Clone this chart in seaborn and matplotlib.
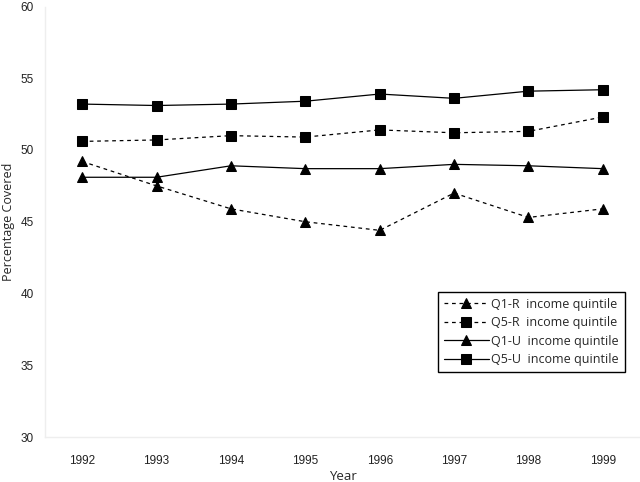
import matplotlib
matplotlib.use("Agg")
import matplotlib.pyplot as plt
import seaborn as sns
import pandas as pd

years = [1992, 1993, 1994, 1995, 1996, 1997, 1998, 1999]
q1_r = [49.2, 47.5, 45.9, 45.0, 44.4, 47.0, 45.3, 45.9]
q5_r = [50.6, 50.7, 51.0, 50.9, 51.4, 51.2, 51.3, 52.3]
q1_u = [48.1, 48.1, 48.9, 48.7, 48.7, 49.0, 48.9, 48.7]
q5_u = [53.2, 53.1, 53.2, 53.4, 53.9, 53.6, 54.1, 54.2]
series_names = ["Q1-R  income quintile", "Q5-R  income quintile",
                "Q1-U  income quintile", "Q5-U  income quintile"]
y_ticks = [30, 35, 40, 45, 50, 55, 60]

sns.set_theme(style="white")
plt.rcParams["font.family"] = ["Open Sans", "DejaVu Sans"]

fig = plt.figure(figsize=(6.4, 4.82), dpi=100)
ax = fig.add_axes([45 / 640, 1 - 437 / 482, 595 / 640, 430.5 / 482])

styles = [
    (q1_r, "^", (0, (3, 3))),
    (q5_r, "s", (0, (3, 3))),
    (q1_u, "^", "-"),
    (q5_u, "s", "-"),
]
for (vals, mk, ls), name in zip(styles, series_names):
    df = pd.DataFrame({"Year": years, "val": vals})
    sns.lineplot(data=df, x="Year", y="val", ax=ax, color="black",
                 linewidth=0.9, linestyle=ls, marker=mk,
                 markersize=7 if mk == "^" else 6.5,
                 markeredgecolor="black", markerfacecolor="black",
                 label=name)

ax.set_xlim(1991.5, 1999.5)
ax.set_ylim(30, 60)
ax.set_xticks(years)
ax.set_xticklabels([str(y) for y in years])
ax.set_yticks(y_ticks)
for lab in ax.get_xticklabels() + ax.get_yticklabels():
    lab.set_family(["Liberation Sans", "DejaVu Sans"])
    lab.set_fontsize(8.5)
    lab.set_color("#222222")
ax.tick_params(axis="both", length=0)
ax.tick_params(axis="x", pad=13)
ax.tick_params(axis="y", pad=8)

for side in ["top", "right"]:
    ax.spines[side].set_visible(False)
for side in ["left", "bottom"]:
    ax.spines[side].set_color("#eeeeee")
    ax.spines[side].set_linewidth(1)

ax.set_xlabel("Year", fontsize=9.5, labelpad=2)
ax.set_ylabel("Percentage Covered", fontsize=9, labelpad=4)

leg = ax.legend(loc="upper left", bbox_to_anchor=(0.661, 0.337),
                frameon=True, fancybox=False, fontsize=9,
                handlelength=3.6, labelspacing=0.45, borderpad=0.45,
                handletextpad=0.2, borderaxespad=0)
leg.get_frame().set_edgecolor("black")
leg.get_frame().set_linewidth(1)
leg.get_frame().set_alpha(1)

fig.savefig("out.png", dpi=100)
